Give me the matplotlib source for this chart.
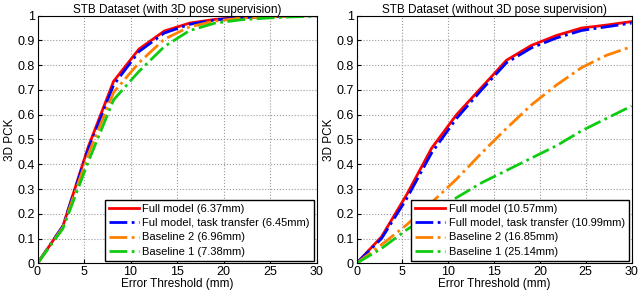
import matplotlib
matplotlib.use("Agg")
import matplotlib.pyplot as plt
import numpy as np

plt.rcParams["font.family"] = ["Liberation Sans", "DejaVu Sans"]

# error thresholds (mm), 12 evaluation points
thresholds = np.linspace(0, 30, 12)

# left panel: with 3D pose supervision
with_full = [0, 0.15, 0.47, 0.735, 0.865, 0.938, 0.97, 0.985, 0.993, 0.997, 1.0, 1.0]
with_transfer = [0, 0.15, 0.46, 0.72, 0.855, 0.93, 0.965, 0.983, 0.992, 0.996, 0.999, 1.0]
with_base2 = [0, 0.145, 0.44, 0.69, 0.81, 0.905, 0.955, 0.978, 0.99, 0.995, 0.998, 1.0]
with_base1 = [0, 0.14, 0.41, 0.66, 0.775, 0.875, 0.94, 0.97, 0.983, 0.99, 0.995, 0.998]
with_labels = ["Full model (6.37mm)", "Ful model, task transfer (6.45mm)",
               "Baseline 2 (6.96mm)", "Baseline 1 (7.38mm)"]

# right panel: without 3D pose supervision
wo_full = [0, 0.107, 0.276, 0.464, 0.60, 0.71, 0.82, 0.88, 0.92, 0.95, 0.962, 0.976]
wo_transfer = [0, 0.10, 0.26, 0.445, 0.585, 0.70, 0.81, 0.87, 0.91, 0.94, 0.955, 0.97]
wo_base2 = [0, 0.075, 0.155, 0.245, 0.34, 0.445, 0.545, 0.64, 0.72, 0.79, 0.84, 0.875]
wo_base1 = [0, 0.06, 0.135, 0.20, 0.265, 0.325, 0.375, 0.425, 0.475, 0.535, 0.585, 0.635]
wo_labels = ["Full model (10.57mm)", "Full model, task transfer (10.99mm)",
             "Baseline 2 (16.85mm)", "Baseline 1 (25.14mm)"]

colors = ["#ff0000", "#0000ff", "#ff8000", "#10cc10"]
styles = ["-", "-.", "-.", "-."]


def draw(ax, series, labels, title):
    for ys, lab, c, ls in zip(series, labels, colors, styles):
        ax.plot(thresholds, ys, ls, color=c, lw=2, label=lab)
    ax.set_xlim(0, 30)
    ax.set_ylim(0, 1)
    ax.set_xticks(range(0, 31, 5))
    ax.set_yticks(np.arange(0, 1.01, 0.1))
    ax.set_yticklabels(["0", "0.1", "0.2", "0.3", "0.4", "0.5", "0.6", "0.7", "0.8", "0.9", "1"])
    ax.tick_params(labelsize=9, direction="in", length=3, pad=2)
    ax.grid(True, linestyle=":", color="#999999", lw=0.8)
    ax.set_title(title, fontsize=8.5, pad=2)
    ax.set_xlabel("Error Threshold (mm)", fontsize=8.5, labelpad=0)
    ax.set_ylabel("3D PCK", fontsize=8.5, labelpad=1)
    leg = ax.legend(loc="lower right", fontsize=8, handlelength=2.7, handletextpad=0.3,
                    labelspacing=0.38, borderpad=0.4, borderaxespad=0.2,
                    fancybox=False, framealpha=1)
    leg.get_frame().set_edgecolor("black")
    leg.get_frame().set_linewidth(1.0)


fig = plt.figure(figsize=(6.4, 2.9), dpi=100)
ax1 = fig.add_axes([37.5 / 640, 0.092, 279 / 640, 0.854])
ax2 = fig.add_axes([356.5 / 640, 0.092, 275 / 640, 0.854])

draw(ax1, [with_full, with_transfer, with_base2, with_base1], with_labels,
     "STB Dataset (with 3D pose supervision)")
draw(ax2, [wo_full, wo_transfer, wo_base2, wo_base1], wo_labels,
     "STB Dataset (without 3D pose supervision)")

fig.savefig("out.png", dpi=100)
